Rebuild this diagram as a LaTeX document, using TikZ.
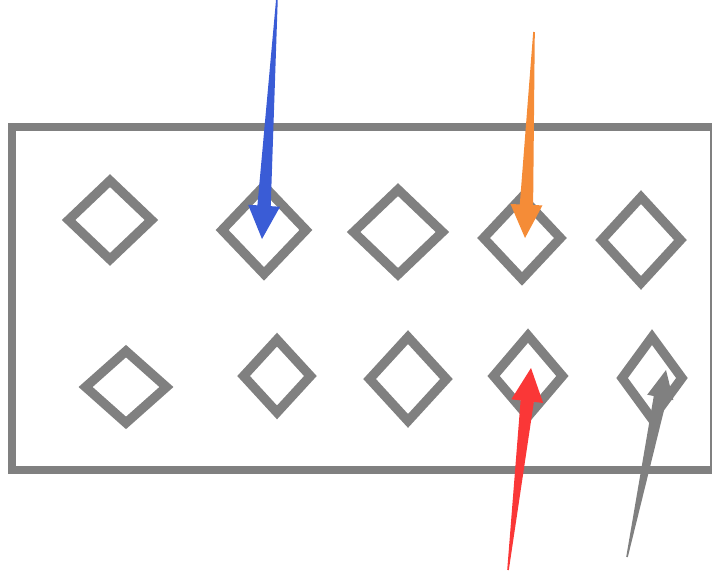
\documentclass[tikz,border=0pt]{standalone}
\usepackage{tikz}
\usetikzlibrary{shapes.geometric,calc}
\definecolor{FrameGray}{RGB}{128,128,128}
\definecolor{PinBlue}{RGB}{58,92,214}
\definecolor{PinOrange}{RGB}{245,140,55}
\definecolor{PinRed}{RGB}{250,55,55}
% tapered arrow: colour, tail, tip, head length, head half width
\newcommand{\taperarrow}[5]{%
  \coordinate (hb) at ($(#3)!#4!(#2)$);
  \fill[#1] ($(#2)!0.6pt!90:(#3)$) -- ($(hb)!5pt!90:(#3)$) -- ($(hb)!#5!90:(#3)$)
    -- (#3) -- ($(hb)!#5!-90:(#3)$) -- ($(hb)!5pt!-90:(#3)$) -- ($(#2)!0.6pt!-90:(#3)$) -- cycle;}
\begin{document}
\begin{tikzpicture}[x=0.75pt, y=-0.75pt,
    dia/.style 2 args={diamond, draw=FrameGray, line width=7pt, inner sep=0pt,
      minimum width=#1*0.75pt+5pt, minimum height=#2*0.75pt+5pt}]
  \useasboundingbox (0,0) rectangle (712,576);
  \draw[FrameGray, line width=6.5pt] (12,127) rectangle (714,470);
  % top row
  \node[dia={80}{76}] (t1) at (110,220) {};
  \node[dia={81}{85}] (t2) at (264,230) {};
  \node[dia={86}{82}] (t3) at (398,232) {};
  \node[dia={74}{79}] (t4) at (522,238) {};
  \node[dia={76}{83}] (t5) at (641,240) {};
  % bottom row
  \node[dia={78}{69}] (b1) at (126,387) {};
  \node[dia={64}{70}] (b2) at (277,376) {};
  \node[dia={74}{81}] (b3) at (408,379) {};
  \node[dia={66}{78}] (b4) at (528,376) {};
  \node[dia={57}{79}] (b5) at (652,378) {};
  % pointers
  \coordinate (srcblue) at (277,-2);
  \coordinate (srcorange) at (534,32);
  \coordinate (srcred) at (508,570);
  \coordinate (srcgray) at (627,557);
  \coordinate (tipblue) at ($(t2.center)+(-2,9)$);
  \coordinate (tiporange) at ($(t4.center)+(3,0)$);
  \coordinate (tipred) at ($(b4.center)+(3,-8)$);
  \coordinate (tipgray) at ($(b5.center)+(14,-8)$);
  \taperarrow{PinBlue}{srcblue}{tipblue}{25pt}{12pt}
  \taperarrow{PinOrange}{srcorange}{tiporange}{25pt}{12pt}
  \taperarrow{PinRed}{srcred}{tipred}{25pt}{12pt}
  \taperarrow{FrameGray}{srcgray}{tipgray}{21pt}{10pt}
\end{tikzpicture}
\end{document}
